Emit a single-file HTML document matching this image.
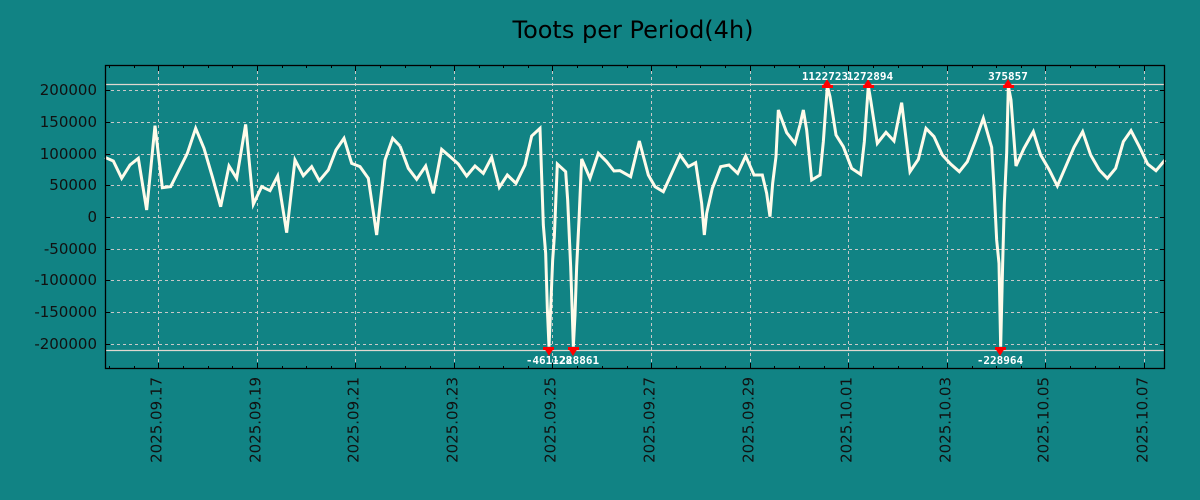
<!DOCTYPE html>
<html><head><meta charset="utf-8"><style>
html,body{margin:0;padding:0;background:#118384;}
svg{display:block;}
</style></head><body>
<svg width="1200" height="500" xmlns="http://www.w3.org/2000/svg" font-family="'DejaVu Sans','Liberation Sans',sans-serif">
<rect width="1200" height="500" fill="#118384"/>
<text x="633" y="38" font-size="24" text-anchor="middle" fill="#000">Toots per Period(4h)</text>
<g stroke="#c8c8c8" stroke-width="1" stroke-dasharray="3,3" fill="none">
<line x1="105" x2="1165" y1="90.5" y2="90.5"/><line x1="105" x2="1165" y1="122.5" y2="122.5"/>
<line x1="105" x2="1165" y1="154.5" y2="154.5"/><line x1="105" x2="1165" y1="185.5" y2="185.5"/>
<line x1="105" x2="1165" y1="217.5" y2="217.5"/><line x1="105" x2="1165" y1="249.5" y2="249.5"/>
<line x1="105" x2="1165" y1="280.5" y2="280.5"/><line x1="105" x2="1165" y1="312.5" y2="312.5"/>
<line x1="105" x2="1165" y1="344.5" y2="344.5"/>
<line y1="65" y2="369" x1="158.5" x2="158.5"/><line y1="65" y2="369" x1="257.5" x2="257.5"/>
<line y1="65" y2="369" x1="355.5" x2="355.5"/><line y1="65" y2="369" x1="454.5" x2="454.5"/>
<line y1="65" y2="369" x1="552.5" x2="552.5"/><line y1="65" y2="369" x1="651.5" x2="651.5"/>
<line y1="65" y2="369" x1="750.5" x2="750.5"/><line y1="65" y2="369" x1="848.5" x2="848.5"/>
<line y1="65" y2="369" x1="947.5" x2="947.5"/><line y1="65" y2="369" x1="1045.5" x2="1045.5"/>
<line y1="65" y2="369" x1="1144.5" x2="1144.5"/>
</g>
<line x1="105" x2="1165" y1="84.5" y2="84.5" stroke="#e0d8d0" stroke-width="1.3"/>
<line x1="105" x2="1165" y1="350.5" y2="350.5" stroke="#e0d8d0" stroke-width="1.3"/>
<g fill="none" stroke="#fffbea" stroke-width="9" stroke-linejoin="miter">
<polyline transform="translate(0,60) scale(0.33333)" points="315,292 340,303 365,355 390,315 415,295 440,450 465,197 487,383 512,380 537,330 562,280 587,205 612,265 637,350 662,440 687,318 710,355 737,193 760,433 785,380 810,392 833,348 860,518 885,300 910,347 935,320 958,362 985,330 1008,270 1032,235 1055,310 1080,320 1105,355 1130,525 1155,300 1178,235 1200,258"/>
<polyline transform="translate(400,60) scale(0.33333)" points="0,258 25,325 50,358 77,318 100,400 125,268 150,290 175,312 200,348 225,318 250,340 275,292 298,382 322,345 348,370 375,315 395,228 420,205 430,495 437,580 442,745 447,860 452,745 458,600 463,530 472,312 497,335 503,420 512,620 517,765 520,860 525,765 530,620 537,480 545,297 570,355 595,280 620,305 642,333 660,332 692,350 718,243 745,345 765,380 790,395 815,340 840,285 865,320 887,308 905,430 913,525 920,460 937,385 962,320 987,315 1013,340 1037,288 1062,345 1087,345 1100,400 1110,470 1118,370 1128,290 1135,150 1160,218 1185,250 1200,195"/>
<polyline transform="translate(800,60) scale(0.33333)" points="0,195 10,150 20,210 35,360 60,345 70,245 82,78 90,110 108,225 130,260 155,325 182,343 193,245 205,78 212,120 232,250 258,217 282,243 305,128 330,335 355,298 378,205 402,230 427,285 452,312 478,335 502,305 527,240 550,175 575,262 582,380 590,540 597,610 602,860 608,610 613,430 620,280 625,78 633,120 648,318 672,265 700,215 722,285 748,330 772,378 797,320 822,262 848,215 872,285 898,330 922,355 947,325 970,245 993,212 1018,260 1043,312 1068,332 1095,300"/>
</g>
<g fill="#ff0000">
<polygon points="822,87 832,87 827,79"/><rect x="822" y="85" width="11" height="3"/>
<polygon points="863,87 873,87 868,79"/><rect x="863" y="85" width="11" height="3"/>
<polygon points="1003,87 1013,87 1008,79"/><rect x="1003" y="85" width="11" height="3"/>
<polygon points="544,348 554,348 549,356"/><rect x="543" y="347" width="11" height="3"/>
<polygon points="568,348 578,348 573,356"/><rect x="568" y="347" width="11" height="3"/>
<polygon points="995,348 1005,348 1000,356"/><rect x="995" y="347" width="11" height="3"/>
</g>
<g fill="#fff" font-family="'DejaVu Sans Mono','Liberation Mono',monospace" font-weight="bold" font-size="11" text-anchor="middle">
<text x="825" y="80">1122723</text><text x="870" y="80">1272894</text><text x="1008" y="80">375857</text>
<text x="549" y="364">-461128</text><text x="576" y="364">-228861</text><text x="1000" y="364">-228964</text>
</g>
<rect x="105.5" y="65.5" width="1059" height="303" fill="none" stroke="#000" stroke-width="1.3"/>
<g stroke="#000" stroke-width="1">
<path d="M105,90.5h5M105,122.5h5M105,154.5h5M105,185.5h5M105,217.5h5M105,249.5h5M105,280.5h5M105,312.5h5M105,344.5h5"/>
<path d="M1165,90.5h-5M1165,122.5h-5M1165,154.5h-5M1165,185.5h-5M1165,217.5h-5M1165,249.5h-5M1165,280.5h-5M1165,312.5h-5M1165,344.5h-5"/>
<path d="M158.5,369v-6M257.5,369v-6M355.5,369v-6M454.5,369v-6M552.5,369v-6M651.5,369v-6M750.5,369v-6M848.5,369v-6M947.5,369v-6M1045.5,369v-6M1144.5,369v-6"/>
<path d="M158.5,65v6M257.5,65v6M355.5,65v6M454.5,65v6M552.5,65v6M651.5,65v6M750.5,65v6M848.5,65v6M947.5,65v6M1045.5,65v6M1144.5,65v6"/>
<path d="M109.5,369v-3M134.5,369v-3M183.5,369v-3M208.5,369v-3M232.5,369v-3M282.5,369v-3M306.5,369v-3M331.5,369v-3M380.5,369v-3M405.5,369v-3M430.5,369v-3M479.5,369v-3M503.5,369v-3M528.5,369v-3M577.5,369v-3M602.5,369v-3M627.5,369v-3M676.5,369v-3M700.5,369v-3M725.5,369v-3M774.5,369v-3M799.5,369v-3M824.5,369v-3M873.5,369v-3M898.5,369v-3M922.5,369v-3M972.5,369v-3M996.5,369v-3M1021.5,369v-3M1070.5,369v-3M1095.5,369v-3M1119.5,369v-3"/>
<path d="M109.5,65v3M134.5,65v3M183.5,65v3M208.5,65v3M232.5,65v3M282.5,65v3M306.5,65v3M331.5,65v3M380.5,65v3M405.5,65v3M430.5,65v3M479.5,65v3M503.5,65v3M528.5,65v3M577.5,65v3M602.5,65v3M627.5,65v3M676.5,65v3M700.5,65v3M725.5,65v3M774.5,65v3M799.5,65v3M824.5,65v3M873.5,65v3M898.5,65v3M922.5,65v3M972.5,65v3M996.5,65v3M1021.5,65v3M1070.5,65v3M1095.5,65v3M1119.5,65v3"/>
</g>
<g fill="#111" font-size="15" text-anchor="end">
<text x="97" y="95">200000</text><text x="97" y="127">150000</text><text x="97" y="159">100000</text>
<text x="97" y="190">50000</text><text x="97" y="222">0</text><text x="97" y="254">-50000</text>
<text x="97" y="285">-100000</text><text x="97" y="317">-150000</text><text x="97" y="349">-200000</text>
</g>
<g fill="#111" font-size="15" text-anchor="end">
<text transform="translate(161.5,377) rotate(-90)">2025.09.17</text>
<text transform="translate(260.5,377) rotate(-90)">2025.09.19</text>
<text transform="translate(358.5,377) rotate(-90)">2025.09.21</text>
<text transform="translate(457.5,377) rotate(-90)">2025.09.23</text>
<text transform="translate(555.5,377) rotate(-90)">2025.09.25</text>
<text transform="translate(654.5,377) rotate(-90)">2025.09.27</text>
<text transform="translate(753.5,377) rotate(-90)">2025.09.29</text>
<text transform="translate(851.5,377) rotate(-90)">2025.10.01</text>
<text transform="translate(950.5,377) rotate(-90)">2025.10.03</text>
<text transform="translate(1048.5,377) rotate(-90)">2025.10.05</text>
<text transform="translate(1147.5,377) rotate(-90)">2025.10.07</text>
</g>
</svg>
</body></html>
